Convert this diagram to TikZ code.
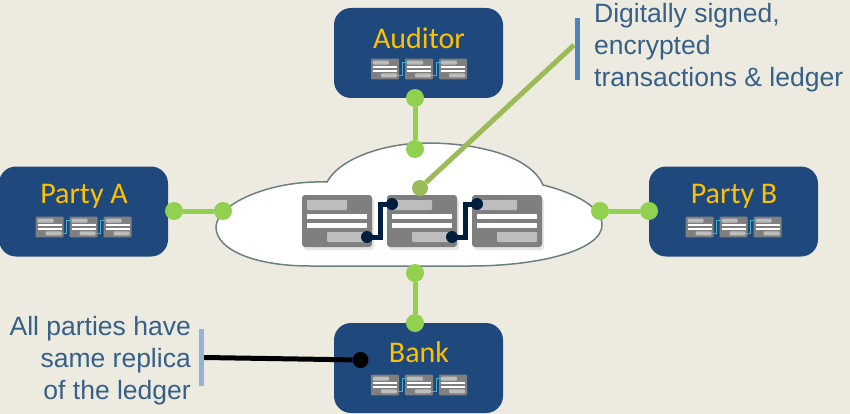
\documentclass[tikz,border=0pt]{standalone}
\usepackage{fontspec}
\setmainfont{Liberation Sans}
\newfontfamily\partyfont{Carlito}
\usetikzlibrary{calc, shadows}
\definecolor{back-color}{HTML}{EDEBE0}
\definecolor{party-color}{HTML}{1F497D}
\definecolor{name-color}{HTML}{FFC000}
\definecolor{note-color}{HTML}{376088}
\definecolor{green-color}{HTML}{92D050}
\definecolor{olive-color}{HTML}{9BBB59}
\definecolor{navy-color}{HTML}{001F3F}
\definecolor{cell-color}{HTML}{7F7F7F}
\definecolor{bar-color}{HTML}{BDBDBD}
\definecolor{teal-color}{HTML}{4BACC6}
\tikzset{
    party-box/.style = {fill=party-color, rounded corners=17pt, minimum width=169pt, minimum height=90pt, inner sep=0pt},
    party-name/.style = {text=name-color, font=\partyfont\fontsize{30}{30}\selectfont, inner sep=0pt},
    note/.style = {text=note-color, font=\fontsize{26.5}{32}\selectfont, inner sep=0pt},
    green-dot/.style = {circle, fill=green-color, minimum size=18pt, inner sep=0pt},
    green-link/.style = {green-color, line width=5pt},
    link-dot/.style = {circle, fill=navy-color, minimum size=12pt, inner sep=0pt},
    big-link/.style = {navy-color, line width=5pt},
    small-link/.style = {teal-color, line width=1pt},
    cell-body/.style = {fill=cell-color, rounded corners=3pt},
    pics/cell/.style = {
        code = {%
        \path[cell-body] (-35,-26) rectangle (35,26);
        \fill[bar-color, rounded corners=1pt] (-30,-21) rectangle (10,-11);
        \fill[white] (-30,-7) rectangle (30,-2);
        \fill[white] (-30,2) rectangle (30,7);
        \fill[bar-color, rounded corners=1pt] (-10,11) rectangle (30,21);
        \coordinate (-in) at (-30,-17);
        \coordinate (-out) at (30,16);
        }
    },
    pics/chain/.style = {
        code = {%
        \pic[transform shape] (-a) at (-85,0) {cell};
        \pic[transform shape] (-b) at (0,0) {cell};
        \pic[transform shape] (-c) at (85,0) {cell};
        \draw[#1] (-a-out) -- ++(13,0) |- (-b-in);
        \draw[#1] (-b-out) -- ++(13,0) |- (-c-in);
        }
    },
}
\begin{document}
\begin{tikzpicture}[x=1pt,y=-1pt]
    \useasboundingbox[fill=back-color] (0,0) rectangle (850,414);

    % parties
    \node[party-box] (auditor) at (418.5,53) {};
    \node[party-box] (party-a) at (83.5,211.5) {};
    \node[party-box] (party-b) at (733.5,211.5) {};
    \node[party-box] (bank) at (418.5,368) {};

    \node[party-name] (auditor-name) at (419,38) {Auditor};
    \node[party-name] (party-a-name) at (84,196) {Party A};
    \node[party-name] (party-b-name) at (734,196) {Party B};
    \node[party-name] (bank-name) at (419,352) {Bank};

    \pic[scale=0.4, cell-body/.append style={rounded corners=1pt}] (auditor-chain) at (419,69) {chain=small-link};
    \pic[scale=0.4, cell-body/.append style={rounded corners=1pt}] (party-a-chain) at (83.5,227) {chain=small-link};
    \pic[scale=0.4, cell-body/.append style={rounded corners=1pt}] (party-b-chain) at (733.5,227) {chain=small-link};
    \pic[scale=0.4, cell-body/.append style={rounded corners=1pt}] (bank-chain) at (419,385) {chain=small-link};

    % cloud
    \draw[fill=white, draw=gray!85!teal, line width=1.5pt] (216,227)
        .. controls (216,205) and (268,180) .. (327,182)
        .. controls (340,158) and (385,143) .. (427,143)
        .. controls (475,143) and (530,155) .. (543,185)
        .. controls (575,193) and (602,207) .. (602,225)
        .. controls (602,250) and (540,266) .. (470,266)
        -- (310,266)
        .. controls (255,266) and (216,250) .. (216,227) -- cycle;

    % ledger
    \pic[cell-body/.append style={drop shadow={shadow xshift=2pt, shadow yshift=-3pt, opacity=0.2}}] (ledger) at (422,221) {chain=big-link};
    \node[link-dot] (ledger-a-dot) at (ledger-a-out) {};
    \node[link-dot] (ledger-b-in-dot) at (ledger-b-in) {};
    \node[link-dot] (ledger-b-dot) at (ledger-b-out) {};
    \node[link-dot] (ledger-c-in-dot) at (ledger-c-in) {};

    % green links
    \node[green-dot] (auditor-dot) at (415,98) {};
    \node[green-dot] (cloud-top-dot) at (415,149) {};
    \node[green-dot] (party-a-dot) at (174,211) {};
    \node[green-dot] (cloud-left-dot) at (223,211) {};
    \node[green-dot] (party-b-dot) at (649,211) {};
    \node[green-dot] (cloud-right-dot) at (600,211) {};
    \node[green-dot] (bank-top-dot) at (415,323) {};
    \node[green-dot] (cloud-bottom-dot) at (415,273) {};
    \draw[green-link] (auditor-dot) -- (cloud-top-dot);
    \draw[green-link] (party-a-dot) -- (cloud-left-dot);
    \draw[green-link] (party-b-dot) -- (cloud-right-dot);
    \draw[green-link] (bank-top-dot) -- (cloud-bottom-dot);

    % notes
    \node[fill={rgb,255:red,79;green,129;blue,189}, minimum width=5pt, minimum height=62pt, inner sep=0pt] (sign-bar) at (577.5,49) {};
    \coordinate (sign-end) at (574,45);
    \node[circle, fill=olive-color, minimum size=16pt, inner sep=0pt] (ledger-dot) at (420,188) {};
    \draw[olive-color, line width=5pt] (ledger-dot) -- (sign-end);
    \node[note, anchor=north west, align=left] (sign-note) at (594,3) {Digitally signed,\\encrypted\\transactions \& ledger};

    \node[fill={rgb,255:red,149;green,179;blue,215}, minimum width=5pt, minimum height=57pt, inner sep=0pt] (replica-bar) at (201.5,357.5) {};
    \node[circle, fill=black, minimum size=16pt, inner sep=0pt] (bank-dot) at (360.5,360) {};
    \draw[black, line width=5pt] (replica-bar.east) -- (bank-dot);
    \node[note, anchor=north east, align=right] (replica-note) at (191,316) {All parties have\\same replica\\of the ledger};
\end{tikzpicture}
\end{document}
